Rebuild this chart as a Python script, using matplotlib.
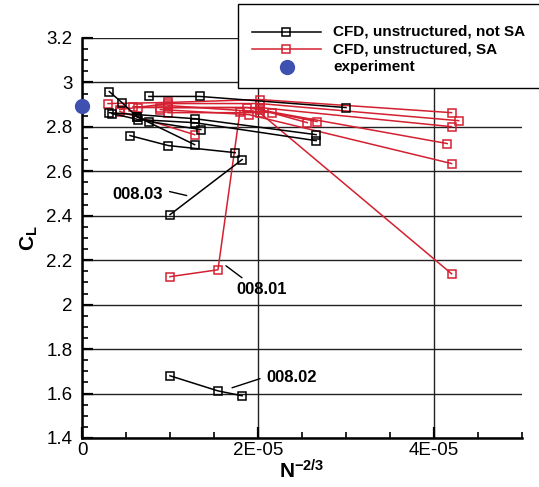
import matplotlib
matplotlib.use("Agg")
import matplotlib.pyplot as plt
from matplotlib.patches import Rectangle
from matplotlib.lines import Line2D
from matplotlib.ticker import MultipleLocator, FixedLocator

plt.rcParams['font.family'] = ['Liberation Sans', 'DejaVu Sans']
plt.rcParams['mathtext.fontset'] = 'custom'
plt.rcParams['mathtext.rm'] = 'Liberation Sans'
plt.rcParams['mathtext.bf'] = 'Liberation Sans:bold'
plt.rcParams['mathtext.it'] = 'Liberation Sans:italic'

SCALE = 1e-5  # x values below are in units of 1E-05

# CFD, unstructured, not SA  (x in 1E-05, CL)
ns1_x = [0.31, 0.455, 0.625, 1.28]
ns1_y = [2.959, 2.909, 2.846, 2.72]
ns2_x = [0.76, 1.34, 3.0]
ns2_y = [2.937, 2.937, 2.887]
ns3_x = [0.31, 1.28, 2.66]
ns3_y = [2.864, 2.837, 2.765]
ns4_x = [0.34, 0.64, 1.28, 2.66]
ns4_y = [2.860, 2.833, 2.819, 2.738]
ns5_x = [0.625, 0.76, 1.35]
ns5_y = [2.846, 2.824, 2.788]
ns6_x = [0.545, 0.98, 1.74]
ns6_y = [2.761, 2.716, 2.684]
ns_00803_x = [1.0, 1.82]
ns_00803_y = [2.405, 2.653]
ns_00802_x = [1.0, 1.545, 1.82]
ns_00802_y = [1.680, 1.612, 1.590]

# CFD, unstructured, SA
sa1_x = [0.295, 0.98, 2.02, 4.2]
sa1_y = [2.905, 2.91, 2.923, 2.864]
sa2_x = [0.43, 0.98, 2.02, 4.28]
sa2_y = [2.878, 2.905, 2.905, 2.828]
sa3_x = [0.58, 0.98, 2.02, 4.2]
sa3_y = [2.891, 2.887, 2.887, 2.801]
sa4_x = [0.64, 0.89, 1.875, 4.15]
sa4_y = [2.887, 2.887, 2.887, 2.725]
sa5_x = [0.89, 1.9, 4.2]
sa5_y = [2.878, 2.855, 2.635]
sa6_x = [0.98, 2.02, 4.2]
sa6_y = [2.864, 2.864, 2.139]
sa_00801_x = [1.0, 1.545, 1.795]
sa_00801_y = [2.126, 2.157, 2.869]
sa8_x = [0.43, 1.28]
sa8_y = [2.869, 2.765]
sa9_x = [0.98, 2.16, 2.67]
sa9_y = [2.896, 2.864, 2.824]
sa10_x = [2.02, 2.56]
sa10_y = [2.878, 2.819]

# experiment
exp_x = [0.0]
exp_y = [2.895]

legend_labels = ["CFD, unstructured, not SA", "CFD, unstructured, SA", "experiment"]
y_ticks = [1.4, 1.6, 1.8, 2.0, 2.2, 2.4, 2.6, 2.8, 3.0, 3.2]
y_ticklabels = ["1.4", "1.6", "1.8", "2", "2.2", "2.4", "2.6", "2.8", "3", "3.2"]
x_ticks = [0.0, 2.0, 4.0]
x_ticklabels = ["0", "2E-05", "4E-05"]

BLACK = "black"
RED = "#d42030"
BLUE = "#3f51b0"

fig = plt.figure(figsize=(5.39, 4.87), dpi=100)
ax = fig.add_axes([82/539, 1-438/487, 440/539, 400/487])

ns_series = [(ns1_x, ns1_y), (ns2_x, ns2_y), (ns3_x, ns3_y), (ns4_x, ns4_y),
             (ns5_x, ns5_y), (ns6_x, ns6_y), (ns_00803_x, ns_00803_y),
             (ns_00802_x, ns_00802_y)]
sa_series = [(sa1_x, sa1_y), (sa2_x, sa2_y), (sa3_x, sa3_y), (sa4_x, sa4_y),
             (sa5_x, sa5_y), (sa6_x, sa6_y), (sa_00801_x, sa_00801_y),
             (sa8_x, sa8_y), (sa9_x, sa9_y), (sa10_x, sa10_y)]

mk = dict(marker='s', markersize=5.5, markerfacecolor='none', markeredgewidth=1.1, linewidth=1.1)
for xs, ys in ns_series:
    ax.plot([v * SCALE for v in xs], ys, color=BLACK, zorder=4, **mk)
for xs, ys in sa_series:
    ax.plot([v * SCALE for v in xs], ys, color=RED, zorder=3, **mk)

ax.plot([v * SCALE for v in exp_x], exp_y, 'o', color=BLUE, markersize=10, zorder=6, clip_on=False)

ax.set_xlim(0, 5e-5)
ax.set_ylim(1.4, 3.2)
ax.yaxis.set_major_locator(FixedLocator(y_ticks))
ax.set_yticklabels(y_ticklabels)
ax.yaxis.set_minor_locator(MultipleLocator(0.05))
ax.xaxis.set_major_locator(FixedLocator([v * SCALE for v in x_ticks]))
ax.set_xticklabels(x_ticklabels)
ax.xaxis.set_minor_locator(MultipleLocator(0.5e-5))

ax.tick_params(axis='both', which='major', direction='in', length=8, width=1.6,
               labelsize=13.5)
ax.tick_params(axis='y', which='major', pad=7)
ax.tick_params(axis='x', which='major', pad=3)
ax.tick_params(axis='both', which='minor', direction='in', length=4, width=1.2)
ax.tick_params(axis='y', right=False)
ax.tick_params(axis='x', top=False)

ax.grid(True, which='major', color='#222222', linewidth=1.0, zorder=1)
ax.set_axisbelow(True)
for s in ['top', 'right']:
    ax.spines[s].set_visible(False)
for s in ['left', 'bottom']:
    ax.spines[s].set_linewidth(1.8)

ax.set_ylabel(r'$\mathbf{C}_{\mathbf{L}}$', fontsize=15, labelpad=4)
ax.set_xlabel(r'$\mathbf{N}^{\mathbf{-2/3}}$', fontsize=15, labelpad=0)

# annotations
ax.text(0.34 * SCALE, 2.497, "008.03", fontsize=12, fontweight='bold', va='center', ha='left')
ax.annotate('', xy=(1.19 * SCALE, 2.491), xytext=(0.995 * SCALE, 2.509),
            arrowprops=dict(arrowstyle='-', color='black', lw=1, shrinkA=0, shrinkB=0))
ax.text(1.75 * SCALE, 2.066, "008.01", fontsize=12, fontweight='bold', va='center', ha='left')
ax.annotate('', xy=(1.818 * SCALE, 2.121), xytext=(1.636 * SCALE, 2.175),
            arrowprops=dict(arrowstyle='-', color='black', lw=1, shrinkA=0, shrinkB=0))
ax.text(2.09 * SCALE, 1.672, "008.02", fontsize=12, fontweight='bold', va='center', ha='left')
ax.annotate('', xy=(2.023 * SCALE, 1.667), xytext=(1.705 * SCALE, 1.626),
            arrowprops=dict(arrowstyle='-', color='black', lw=1, shrinkA=0, shrinkB=0))

# legend box (figure coords)
W, H = 539.0, 487.0
rect = Rectangle((238/W, 1-88/H), 1.0, 84/H, transform=fig.transFigure,
                 facecolor='white', edgecolor='black', linewidth=1.0, zorder=10)
fig.patches.append(rect)
rows = [32, 49, 67]
cols = [BLACK, RED]
for i in range(2):
    yy = 1 - rows[i]/H
    fig.lines.append(Line2D([252/W, 321/W], [yy, yy], transform=fig.transFigure,
                            color=cols[i], linewidth=1.1, zorder=11))
    fig.lines.append(Line2D([286/W], [yy], transform=fig.transFigure, color=cols[i],
                            marker='s', markersize=5.5, markerfacecolor='none',
                            markeredgewidth=1.1, zorder=11))
fig.lines.append(Line2D([287/W], [1 - rows[2]/H], transform=fig.transFigure, color=BLUE,
                        marker='o', markersize=10, linestyle='none', zorder=11))
for i in range(3):
    fig.text(333/W, 1 - rows[i]/H, legend_labels[i], fontsize=11, fontweight='bold',
             va='center', ha='left', zorder=12)

fig.savefig("out.png", dpi=100)
